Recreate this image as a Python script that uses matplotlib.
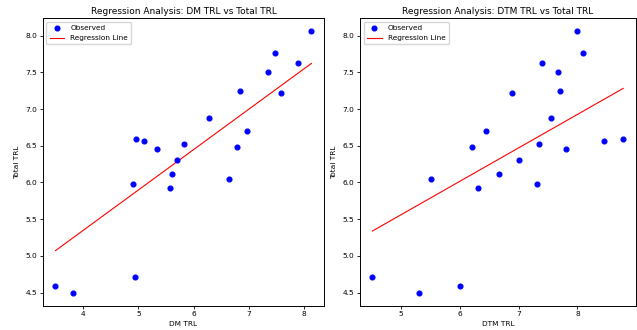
import numpy as np
import matplotlib.pyplot as plt

# values
dm_trl = [8.13, 7.47, 7.89, 7.35, 6.84, 7.58, 6.28, 6.97, 4.95, 5.10, 5.82,
          6.79, 5.34, 5.69, 5.61, 6.64, 4.90, 5.57, 4.93, 3.50, 3.82]
dtm_trl = [8.00, 8.09, 7.40, 7.67, 7.71, 6.89, 7.55, 6.44, 8.78, 8.45, 7.34,
           6.20, 7.81, 7.00, 6.67, 5.51, 7.31, 6.30, 4.51, 6.00, 5.31]
total_trl = [8.06, 7.77, 7.63, 7.50, 7.25, 7.22, 6.88, 6.70, 6.59, 6.57, 6.53,
             6.48, 6.46, 6.31, 6.11, 6.04, 5.98, 5.92, 4.71, 4.59, 4.50]

# regression line coefficients as drawn in the reference [slope, intercept]
dm_line = [0.551, 3.142]
dtm_line = [0.455, 3.286]

fs = 5.3
fig = plt.figure(figsize=(6.37, 3.3), dpi=100)
ax1 = fig.add_axes([0.067, 0.074, 0.442, 0.871])
ax2 = fig.add_axes([0.565, 0.074, 0.433, 0.871])


def reg_panel(ax, x, y, coef, name):
    x = np.array(x)
    ax.scatter(x, y, color='blue', s=11.5, label='Observed', zorder=3)
    xs = np.linspace(x.min(), x.max(), 100)
    ax.plot(xs, coef[0] * xs + coef[1], color='red', lw=0.8, label='Regression Line')
    ax.set_title(f'Regression Analysis: {name} vs Total TRL', fontsize=6.5, pad=3)
    ax.set_xlabel(name, fontsize=fs, labelpad=3)
    ax.set_ylabel('Total TRL', fontsize=fs, labelpad=4)
    ax.tick_params(labelsize=fs, length=2, width=0.6, pad=2)
    for s in ax.spines.values():
        s.set_linewidth(0.7)
    ax.legend(loc='upper left', fontsize=fs, handlelength=2, borderpad=0.45)


reg_panel(ax1, dm_trl, total_trl, dm_line, 'DM TRL')
reg_panel(ax2, dtm_trl, total_trl, dtm_line, 'DTM TRL')

plt.savefig('out.png', dpi=100)
plt.close()
